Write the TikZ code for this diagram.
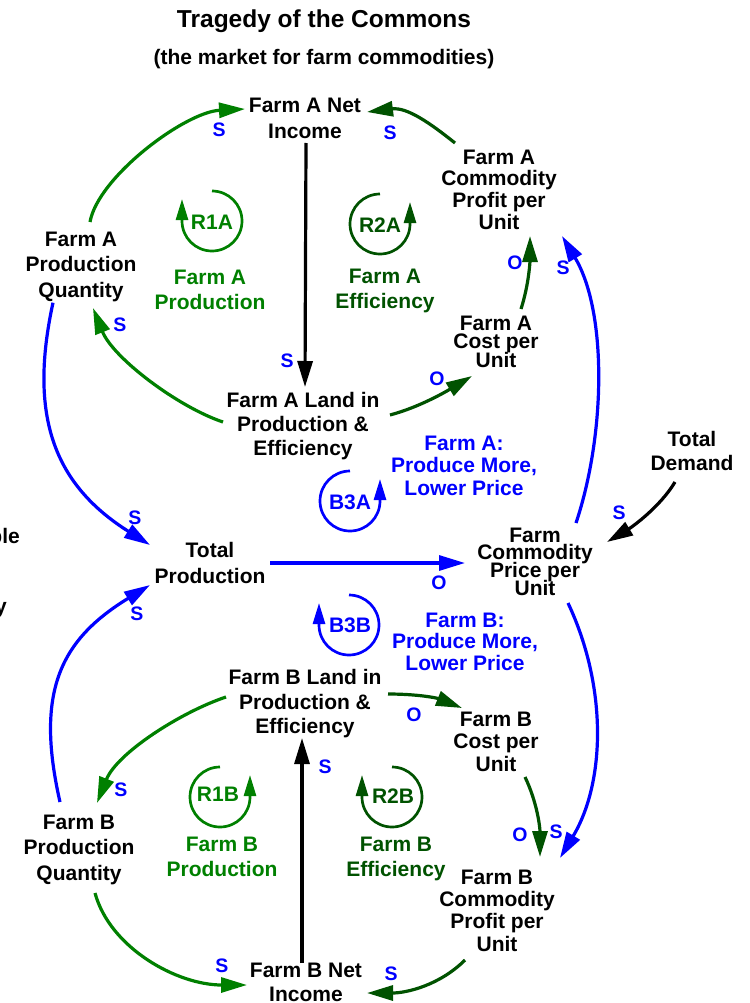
\documentclass[tikz,border=0pt]{standalone}
\usepackage{fontspec}
\setmainfont{Liberation Sans}
\usetikzlibrary{arrows.meta}
\definecolor{lgreen}{RGB}{0,128,0}
\definecolor{dgreen}{RGB}{0,82,0}
\definecolor{pblue}{RGB}{0,0,255}
% tightly set multi-line labels may overlap slightly
\setlength{\lineskiplimit}{-100pt}

\begin{document}
\begin{tikzpicture}[x=1pt,y=1pt,
  var/.style={align=center, inner sep=0pt,
    font=\bfseries\fontsize{21}{#1}\selectfont},
  var/.default=25,
  pol/.style={text=pblue, inner sep=0pt, font=\bfseries\fontsize{19.5}{19.5}\selectfont},
  link/.style={line width=3.2pt, -{Triangle[length=26pt,width=15pt]}},
  loopc/.style={line width=2.7pt, -{Triangle[length=21pt,width=12pt]}},
  loopid/.style={inner sep=0pt, font=\bfseries\fontsize{21}{21}\selectfont},
  edge/.style={inner sep=0pt, font=\bfseries\fontsize{21}{21}\selectfont},
  ]
\useasboundingbox (0,0) rectangle (749,-1003);

% titles
\node[anchor=base, inner sep=0pt, font=\bfseries\fontsize{24.5}{28}\selectfont]
  (title) at (324,-27.5) {Tragedy of the Commons};
\node[anchor=base, inner sep=0pt, font=\bfseries\fontsize{21}{25}\selectfont]
  (subtitle) at (324,-64.5) {(the market for farm commodities)};

% text at the left edge
\node[edge, anchor=base east] (edgeA) at (20,-543) {ple};
\node[edge, anchor=base east] (edgeB) at (7,-613) {y};

% variables
\node[var=26]   (na) at (305,-118)   {Farm A Net\\Income};
\node[var=21.7] (pa) at (499,-189.5) {Farm A\\Commodity\\Profit per\\Unit};
\node[var=25.5] (qa) at (81,-266.7)  {Farm A\\Production\\Quantity};
\node[var=18.5] (ca) at (496,-341.5) {Farm A\\Cost per\\Unit};
\node[var=24]   (la) at (303,-425.7) {Farm A Land in\\Production \&\\Efficiency};
\node[var=24]   (td) at (692,-451)   {Total\\Demand};
\node[var=26]   (tp) at (210,-562.5) {Total\\Production};
\node[var=17.7] (pr) at (535,-561.5) {Farm\\Commodity\\Price per\\Unit};
\node[var=24.5] (lb) at (305,-703.7) {Farm B Land in\\Production \&\\Efficiency};
\node[var=22.5] (cb) at (496,-741.5) {Farm B\\Cost per\\Unit};
\node[var=25.5] (qb) at (79,-849.7)  {Farm B\\Production\\Quantity};
\node[var=22.3] (pb) at (497,-910.5) {Farm B\\Commodity\\Profit per\\Unit};
\node[var=24]   (nb) at (306,-982)   {Farm B Net\\Income};

% loop names
\node[var=25, text=lgreen] (r1aname) at (210,-289.5) {Farm A\\Production};
\node[var=25, text=dgreen] (r2aname) at (385,-290.7) {Farm A\\Efficiency};
\node[var=22.5, text=pblue] (b3aname) at (464,-465.5) {Farm A:\\Produce More,\\Lower Price};
\node[var=21.5, text=pblue] (b3bname) at (465,-641.5) {Farm B:\\Produce More,\\Lower Price};
\node[var=25, text=lgreen] (r1bname) at (222,-856.5) {Farm B\\Production};
\node[var=25, text=dgreen] (r2bname) at (396,-858.7) {Farm B\\Efficiency};

% loop identifiers with their circular arrows
\node[loopid, text=lgreen] (r1a) at (212,-222) {R1A};
\node[loopid, text=dgreen] (r2a) at (380,-225) {R2A};
\node[loopid, text=pblue]  (b3a) at (350,-502) {B3A};
\node[loopid, text=pblue]  (b3b) at (350,-625) {B3B};
\node[loopid, text=lgreen] (r1b) at (218,-794) {R1B};
\node[loopid, text=dgreen] (r2b) at (393,-796) {R2B};

\draw[loopc, lgreen] ([shift={(0,1)}]r1a.center) ++(0,30)
  arc[start angle=90, end angle=-180, radius=30] -- ++(0,22);
\draw[loopc, dgreen] ([shift={(0,1)}]r2a.center) ++(0,30)
  arc[start angle=90, end angle=360, radius=30] -- ++(0,22);
\draw[loopc, pblue] ([shift={(0,1)}]b3a.center) ++(0,30)
  arc[start angle=90, end angle=360, radius=30] -- ++(0,22);
\draw[loopc, pblue] ([shift={(-1,0)}]b3b.center) ++(0,30)
  arc[start angle=90, end angle=-180, radius=30] -- ++(0,22);
\draw[loopc, lgreen] ([shift={(2,-3)}]r1b.center) ++(0,30)
  arc[start angle=90, end angle=360, radius=30] -- ++(0,22);
\draw[loopc, dgreen] ([shift={(-1,-1)}]r2b.center) ++(0,30)
  arc[start angle=90, end angle=-180, radius=30] -- ++(0,22);

% causal links, upper half
\draw[link, lgreen] ([shift={(9,44.7)}]qa.center)
  .. controls +(8,45) and +(-60,-3) .. ([shift={(-60,9)}]na.center);
\draw[link, dgreen] ([shift={(-44,46.5)}]pa.center)
  .. controls +(-25,20) and +(40,5) .. ([shift={(62,6)}]na.center);
\draw[link, black] ([shift={(1,-25)}]na.center) -- ([shift={(2,38.7)}]la.center);
\draw[link, lgreen] ([shift={(-80,3.7)}]la.center)
  .. controls +(-45,15) and +(20,-50) .. ([shift={(12,-41.3)}]qa.center);
\draw[link, dgreen] ([shift={(87,10.7)}]la.center)
  .. controls +(30,8) and +(-25,-15) .. ([shift={(-24,-34.5)}]ca.center);
\draw[link, dgreen] ([shift={(25,32.5)}]ca.center)
  .. controls +(8,25) and +(0,-25) .. ([shift={(31,-46.5)}]pa.center);
\draw[link, pblue] ([shift={(41,38.5)}]pr.center)
  .. controls +(30,90) and +(45,-75) .. ([shift={(63,-46.5)}]pa.center);
\draw[link, pblue] ([shift={(-28,-36)}]qa.center)
  .. controls +(-25,-115) and +(-95,60) .. ([shift={(-60,17.5)}]tp.center);
\draw[link, black] ([shift={(-17,-31)}]td.center)
  .. controls +(-15,-25) and +(25,15) .. ([shift={(72,19.5)}]pr.center);
\draw[link, pblue] ([shift={(60,-0.5)}]tp.center) -- ([shift={(-70,-1.5)}]pr.center);

% causal links, lower half
\draw[link, pblue] ([shift={(-19,47.7)}]qb.center)
  .. controls +(-25,110) and +(-90,-55) .. ([shift={(-60,-22.5)}]tp.center);
\draw[link, pblue] ([shift={(33,-41.5)}]pr.center)
  .. controls +(40,-85) and +(45,75) .. ([shift={(63,52.5)}]pb.center);
\draw[link, lgreen] ([shift={(-79,6.7)}]lb.center)
  .. controls +(-45,-15) and +(20,50) .. ([shift={(18,46.7)}]qb.center);
\draw[link, dgreen] ([shift={(83,9.7)}]lb.center)
  .. controls +(30,0) and +(-25,10) .. ([shift={(-34,33.5)}]cb.center);
\draw[link, dgreen] ([shift={(29,-35.5)}]cb.center)
  .. controls +(12,-25) and +(0,30) .. ([shift={(43,53.5)}]pb.center);
\draw[link, lgreen] ([shift={(16,-43.3)}]qb.center)
  .. controls +(15,-55) and +(-70,0) .. ([shift={(-59,-3)}]nb.center);
\draw[link, dgreen] ([shift={(-32,-49.5)}]pb.center)
  .. controls +(-25,-25) and +(40,0) .. ([shift={(61,-11)}]nb.center);
\draw[link, black] ([shift={(-4,19)}]nb.center) -- ([shift={(-3,-34.3)}]lb.center);

% link polarities
\node[pol] (p1)  at (219,-130) {S};
\node[pol] (p2)  at (390,-133) {S};
\node[pol] (p3)  at (287,-361) {S};
\node[pol] (p4)  at (120,-325) {S};
\node[pol] (p5)  at (437,-379) {O};
\node[pol] (p6)  at (515,-263) {O};
\node[pol] (p7)  at (563,-268) {S};
\node[pol] (p8)  at (135,-518) {S};
\node[pol] (p9)  at (619,-513) {S};
\node[pol] (p10) at (439,-583) {O};
\node[pol] (p11) at (137,-614) {S};
\node[pol] (p12) at (556,-832) {S};
\node[pol] (p13) at (121,-790) {S};
\node[pol] (p14) at (414,-715) {O};
\node[pol] (p15) at (520,-835) {O};
\node[pol] (p16) at (222,-966) {S};
\node[pol] (p17) at (391,-974) {S};
\node[pol] (p18) at (325,-767) {S};
\end{tikzpicture}
\end{document}
